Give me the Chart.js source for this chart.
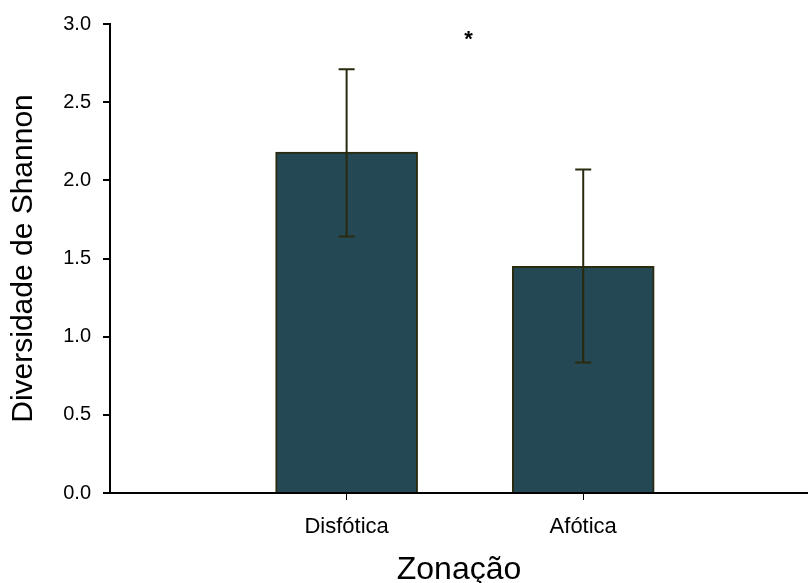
<!DOCTYPE html>
<html>
<head>
<meta charset="utf-8">
<script src="https://cdn.jsdelivr.net/npm/chart.js@4.4.0/dist/chart.umd.min.js"></script>
<style>
  html, body { margin: 0; padding: 0; background: #fff; }
  #wrap { width: 808px; height: 583px; }
</style>
</head>
<body>
<div id="wrap"><canvas id="canvas" width="808" height="583"></canvas></div>
<script>
// data
const categories = ['Disfótica', 'Afótica'];
const positions = [1, 2];
const diversity = [2.18, 1.45];
const errLow = [1.64, 0.835];
const errHigh = [2.71, 2.07];
const yTicks = [0, 0.5, 1.0, 1.5, 2.0, 2.5, 3.0];
const starMark = { x: 1.515, y: 2.93, text: '*' };

const fontName = '"Liberation Sans", Arial, sans-serif';
const olive = '#2a2a0e';

// error bars + the asterisk
const errorBars = {
    id: 'errorBars',
    afterDatasetsDraw(chart) {
        const ctx = chart.ctx;
        const xs = chart.scales.x;
        const ys = chart.scales.y;
        ctx.save();
        ctx.strokeStyle = olive;
        ctx.lineWidth = 2;
        positions.forEach((p, i) => {
            const x = xs.getPixelForValue(p);
            const top = ys.getPixelForValue(errHigh[i]);
            const bot = ys.getPixelForValue(errLow[i]);
            ctx.beginPath();
            ctx.moveTo(x, top); ctx.lineTo(x, bot);
            ctx.moveTo(x - 8, top); ctx.lineTo(x + 8, top);
            ctx.moveTo(x - 8, bot); ctx.lineTo(x + 8, bot);
            ctx.stroke();
        });
        ctx.fillStyle = '#000';
        ctx.font = 'bold 22px ' + fontName;
        ctx.textAlign = 'center';
        ctx.textBaseline = 'middle';
        ctx.fillText(starMark.text, xs.getPixelForValue(starMark.x), ys.getPixelForValue(starMark.y) + 5);
        ctx.restore();
    }
};

const ctx = document.getElementById('canvas').getContext('2d');
const myChart = new Chart(ctx, {
    type: 'bar',
    data: {
        datasets: [{
            data: positions.map((p, i) => ({ x: p, y: diversity[i] })),
            backgroundColor: '#244854',
            borderColor: olive,
            borderWidth: 2,
            barThickness: 142
        }]
    },
    options: {
        responsive: false,
        animation: false,
        layout: { padding: { top: 12, right: 0, left: 0, bottom: 0 } },
        plugins: { legend: { display: false }, tooltip: { enabled: false } },
        scales: {
            x: {
                type: 'linear',
                min: 0,
                max: 2.95,
                offset: false,
                afterBuildTicks: scale => { scale.ticks = positions.map(v => ({ value: v })); },
                afterFit: scale => { scale.height = 90; },
                grid: { offset: false, drawOnChartArea: false, drawTicks: true, tickLength: 7, color: '#000', lineWidth: 1 },
                border: { color: '#000', width: 2 },
                ticks: {
                    color: '#000',
                    font: { family: fontName, size: 22 },
                    padding: 14,
                    callback: v => categories[positions.indexOf(v)]
                },
                title: {
                    display: true,
                    text: 'Zonação',
                    color: '#000',
                    font: { family: fontName, size: 32, lineHeight: 0.8 },
                    padding: { top: 14, bottom: 0 }
                }
            },
            y: {
                min: 0,
                max: 3,
                afterBuildTicks: scale => { scale.ticks = yTicks.map(v => ({ value: v })); },
                afterFit: scale => { scale.width = 110; },
                grid: { drawOnChartArea: false, drawTicks: true, tickLength: 7, color: '#000', lineWidth: 2 },
                border: { color: '#000', width: 2 },
                ticks: {
                    color: '#000',
                    font: { family: fontName, size: 20 },
                    padding: 12,
                    callback: v => v.toFixed(1)
                },
                title: {
                    display: true,
                    text: 'Diversidade de Shannon',
                    color: '#000',
                    font: { family: fontName, size: 30 },
                    padding: { top: 6, bottom: 0 }
                }
            }
        }
    },
    plugins: [errorBars]
});
</script>
</body>
</html>
